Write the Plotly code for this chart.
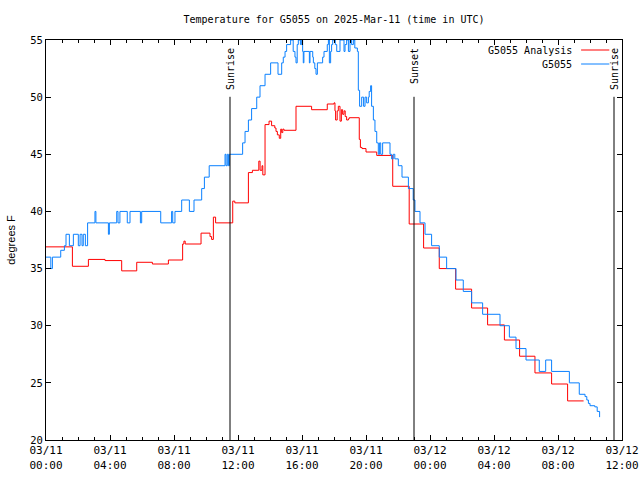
import pandas as pd
import plotly.graph_objects as go

# ---------------- data ----------------
START = pd.Timestamp("2025-03-11 00:00")  # hours below are counted from here (UTC)

ANALYSIS_NAME = "G5055 Analysis"
ANALYSIS_HOURS = [0.0, 1.65, 2.65, 3.69, 4.73, 5.67, 6.65, 7.65, 8.54, 8.62, 8.7, 9.69,
                  10.25, 10.35, 10.46, 10.6, 11.67, 11.8, 12.65, 12.9, 13.3, 13.38, 13.5,
                  13.55, 13.69, 13.94, 14.1, 14.3, 14.375, 14.46, 14.58, 14.67, 14.73, 14.8,
                  14.875, 15.625, 16.6, 17.58, 18.0, 18.06, 18.1, 18.2, 18.27, 18.375, 18.46,
                  18.54, 18.625, 18.7, 18.79, 18.9, 18.95, 19.58, 19.65, 19.75, 20.0, 20.67,
                  21.67, 22.7, 23.6, 24.58, 25.6, 26.6, 27.6, 28.65, 29.6, 30.56, 31.6, 32.6,
                  33.6]
ANALYSIS_TEMPS = [36.9, 35.2, 35.8, 35.7, 34.8, 35.55, 35.4, 35.75, 37.15, 37.4, 37.15, 38.1,
                  37.8, 37.55, 39.5, 39.0, 40.9, 40.75, 43.4, 43.6, 44.4, 43.6, 44.0,
                  43.2, 47.6, 47.9, 47.5, 47.3, 47.0, 46.7, 46.4, 47.2, 46.9, 47.2,
                  47.1, 49.2, 48.9, 49.4, 49.5, 48.8, 48.0, 48.8, 49.2, 47.9, 48.9,
                  48.5, 48.8, 48.3, 48.0, 48.1, 48.2, 46.3, 45.6, 45.5, 45.2, 44.9,
                  42.2, 38.9, 36.8, 35.0, 33.2, 31.55, 30.07, 28.75, 27.33, 25.87, 24.9, 23.42,
                  23.42]

OBS_NAME = "G5055"
OBS_HOURS = [0.0, 0.3, 0.4, 0.92, 1.15, 1.25, 1.46, 1.71, 2.02, 2.13, 2.25, 2.33, 2.46, 2.6,
             3.06, 3.12, 3.9, 3.96, 4.42, 4.5, 4.62, 5.08, 5.25, 5.9, 5.98, 7.17, 7.85, 7.92,
             8.06, 8.48, 8.96, 9.25, 9.73, 9.9, 10.2, 11.19, 11.25, 11.33, 11.4, 11.46,
             12.29, 12.44, 12.65, 12.85, 13.17, 13.375, 13.69, 14.04, 14.5, 14.73, 14.83,
             14.94, 15.04, 15.29, 15.45, 15.56, 15.625, 15.7, 15.77, 15.9, 15.98, 16.04,
             16.08, 16.12, 16.46, 16.5, 16.67, 16.71, 16.8, 16.875, 16.96, 17.29, 17.375,
             17.58, 17.65, 17.71, 17.79, 17.85, 17.92, 18.08, 18.17, 18.375, 18.625, 18.69,
             18.79, 18.9, 19.0, 19.1, 19.21, 19.3, 19.46, 19.52, 19.6, 19.73, 19.85, 19.94,
             20.04, 20.15, 20.2, 20.29, 20.35, 20.46, 20.56, 20.67, 20.77, 20.85, 20.92,
             21.04, 21.5, 21.6, 21.7, 21.8, 22.02, 22.25, 22.65, 22.95, 23.06, 23.375,
             23.69, 24.1, 24.58, 25.04, 25.625, 26.08, 26.6, 27.29, 28.375, 28.96, 29.375,
             30.0, 30.83, 31.23, 31.6, 32.71, 33.33, 33.69, 33.8, 33.9, 34.0, 34.3, 34.45,
             34.6]
OBS_TEMPS = [36, 35, 36, 36.6, 37, 38, 37, 38, 37, 38, 37, 38, 37, 39,
             40, 39, 38, 39, 40, 39, 40, 39, 40, 39, 40, 39, 40, 39,
             40, 41, 40, 41, 42, 43, 44, 45, 44, 45, 44, 45,
             46, 47, 48, 49, 50, 51, 52, 53, 52, 53, 53.5,
             54, 54.6, 55, 54, 53.5, 53, 54.6, 55, 54.6, 55, 54,
             53, 54, 53, 54, 53.5, 53, 52.5, 52, 53, 53.5, 54,
             54.6, 55, 53, 54, 54.6, 55, 54.6, 54, 55, 54, 54.6,
             55, 54, 55, 54.6, 55, 54.3, 54, 50.6, 49.2, 50, 49.2, 50,
             49.5, 50, 50.5, 51, 49.2, 48, 47, 46, 45, 46, 45,
             46, 45, 44.6, 45, 44.6, 44, 43, 42, 41, 40, 39,
             38, 37, 36, 35, 34, 33, 32, 31, 30, 29, 28,
             27, 26, 27, 26, 25, 24, 23.8, 23.5, 23.2, 23.0, 22.9, 22.5,
             22.0]

SUN_LABELS = ["Sunrise", "Sunset", "Sunrise"]
SUN_TIMES = ["2025-03-11 11:30", "2025-03-11 23:00", "2025-03-12 11:30"]

X_TICK_TIMES = ["2025-03-11 00:00", "2025-03-11 04:00", "2025-03-11 08:00",
                "2025-03-11 12:00", "2025-03-11 16:00", "2025-03-11 20:00",
                "2025-03-12 00:00", "2025-03-12 04:00", "2025-03-12 08:00",
                "2025-03-12 12:00"]
X_TICK_LABELS = ["03/11<br>00:00", "03/11<br>04:00", "03/11<br>08:00", "03/11<br>12:00",
                 "03/11<br>16:00", "03/11<br>20:00", "03/12<br>00:00", "03/12<br>04:00",
                 "03/12<br>08:00", "03/12<br>12:00"]
Y_TICKS = [20, 25, 30, 35, 40, 45, 50, 55]

TITLE = "Temperature for G5055 on 2025-Mar-11 (time in UTC)"
Y_TITLE = "degrees F"

# ---------------- figure ----------------
MONO = "DejaVu Sans Mono"
RED = "#ff0000"
BLUE = "#0a80ff"


def to_time(hours):
    return [START + pd.Timedelta(hours=h) for h in hours]


fig = go.Figure()
fig.add_trace(go.Scatter(x=to_time(ANALYSIS_HOURS), y=ANALYSIS_TEMPS, name=ANALYSIS_NAME,
                         mode="lines", line=dict(color=RED, width=1, shape="hv")))
fig.add_trace(go.Scatter(x=to_time(OBS_HOURS), y=OBS_TEMPS, name=OBS_NAME,
                         mode="lines", line=dict(color=BLUE, width=1, shape="hv")))

# sunrise / sunset markers
for label, t in zip(SUN_LABELS, SUN_TIMES):
    fig.add_shape(type="line", xref="x", yref="paper", x0=t, x1=t, y0=0, y1=0.858,
                  line=dict(color="black", width=1))
    fig.add_annotation(x=t, xref="x", y=1, yref="paper", text=label, textangle=-90,
                       showarrow=False, xanchor="center", yanchor="top", yshift=-6,
                       font=dict(family=MONO, size=10, color="black"))

# gnuplot-style key (text right-aligned, sample line on its right)
for i, (name, col) in enumerate([(ANALYSIS_NAME, RED), (OBS_NAME, BLUE)]):
    yk = 0.975 - i * 0.035
    fig.add_annotation(x=0.917, xref="paper", y=yk, yref="paper", text=name,
                       showarrow=False, xanchor="right", yanchor="middle",
                       font=dict(family=MONO, size=10, color="black"))
    fig.add_shape(type="line", xref="paper", yref="paper", x0=0.929, x1=0.978,
                  y0=yk, y1=yk, line=dict(color=col, width=1))

fig.update_layout(
    template="none",
    width=640, height=480,
    margin=dict(l=46, r=18, t=40, b=40, autoexpand=False),
    paper_bgcolor="white", plot_bgcolor="white",
    showlegend=False,
    title=dict(text=TITLE, x=0.5, xref="paper", xanchor="center",
               y=1 - 19 / 480, yref="container", yanchor="middle",
               font=dict(family=MONO, size=10, color="black")),
    font=dict(family=MONO, size=10, color="black"),
)
fig.update_xaxes(
    type="date", automargin=False,
    range=[X_TICK_TIMES[0], X_TICK_TIMES[-1]],
    tickmode="array", tickvals=X_TICK_TIMES, ticktext=X_TICK_LABELS,
    ticks="inside", ticklen=5, tickcolor="black", tickwidth=1,
    minor=dict(dtick=3600000, ticks="inside", ticklen=3, tickcolor="black", tickwidth=1,
               showgrid=False),
    showline=True, linecolor="black", linewidth=1, mirror="ticks",
    showgrid=False, zeroline=False,
    tickfont=dict(family=MONO, size=11, color="black"),
)
fig.update_yaxes(
    automargin=False,
    range=[20, 55],
    tickmode="array", tickvals=Y_TICKS,
    ticks="inside", ticklen=5, tickcolor="black", tickwidth=1,
    showline=True, linecolor="black", linewidth=1, mirror="ticks",
    showgrid=False, zeroline=False,
    tickfont=dict(family=MONO, size=10.5, color="black"),
    title=dict(text=Y_TITLE, standoff=12,
               font=dict(family="Liberation Sans", size=11, color="black")),
)

fig.write_html("out.html",
               config={"displayModeBar": False},
               post_script="document.body.style.margin='0';document.body.style.padding='0';")
